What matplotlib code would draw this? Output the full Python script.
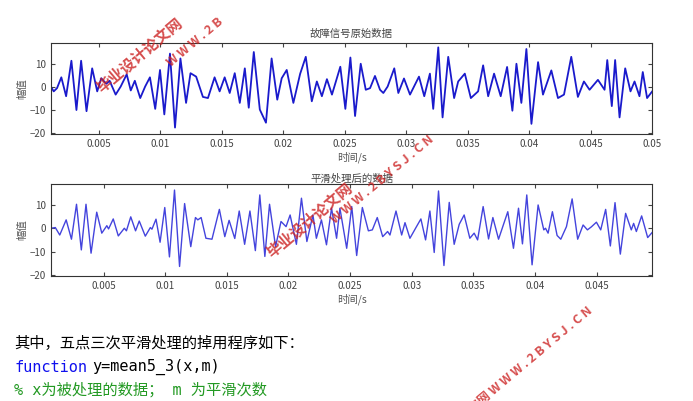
import matplotlib
matplotlib.use("Agg")
import matplotlib.pyplot as plt

plt.rcParams['font.family'] = ['Noto Sans CJK SC', 'DejaVu Sans']

# raw fault signal: extrema (time in ms, amplitude)
raw_t = [1.10, 1.32, 1.59, 1.94, 2.33, 2.76, 3.17, 3.55, 3.99, 4.45, 4.86, 5.19, 5.60, 5.87,
         6.36, 6.77, 7.26, 7.59, 7.92, 8.36, 8.76, 9.15, 9.58, 9.97, 10.32, 10.78, 11.19, 11.63,
         12.09, 12.45, 12.91, 13.46, 13.87, 14.41, 14.82, 15.23, 15.64, 16.05, 16.46, 16.87,
         17.19, 17.60, 18.09, 18.59, 19.05, 19.51, 19.87, 20.28, 20.82, 21.37, 21.83, 22.32,
         22.73, 23.14, 23.55, 23.96, 24.64, 25.05, 25.46, 25.84, 26.30, 26.71, 27.06, 27.46,
         27.87, 28.14, 28.49, 29.03, 29.36, 29.82, 30.31, 31.04, 31.47, 31.93, 32.20, 32.61,
         32.96, 33.42, 33.90, 34.23, 34.77, 35.26, 35.85, 36.26, 36.67, 37.15, 37.69, 38.21,
         38.64, 38.97, 39.37, 39.78, 40.19, 40.73, 41.13, 41.81, 42.35, 42.84, 43.43, 43.97,
         44.46, 44.92, 45.60, 46.14, 46.36, 46.73, 47.00, 47.36, 47.82, 48.25, 48.58, 48.98,
         49.25, 49.60, 50.06]
raw_v = [0, -2, -0.6, 4.1, -4.1, 11.3, -10.1, 11.3, -10.6, 8.0, -2.0, 3.7, 1.3, 2.6,
         -3.4, 0.1, 5.4, -1.6, 2.6, -4.9, 0.1, 4.1, -9.6, 7.3, -12.0, 14.4, -17.7, 12.3,
         -7.0, 5.9, 4.4, -4.4, -4.9, 4.1, -2.0, 4.1, -2.7, 5.9, -7.0, 8.0,
         -9.1, 15.1, -9.9, -15.6, 12.3, -5.6, 3.7, 7.3, -7.0, 5.6, 13.0, -6.3,
         2.3, -4.1, 3.3, -3.4, 8.7, -9.6, 12.7, -12.7, 10.0, -1.3, -0.6, 4.7,
         -1.3, -2.7, 0.1, 8.0, -2.7, 3.6, -3.4, 4.4, -4.1, 5.7, -9.6, 17.1,
         -13.3, 13.0, -4.9, 2.3, 5.7, -4.9, -2.0, 9.3, -4.1, 5.7, -4.1, 8.6,
         -10.4, 10.0, -7.0, 16.4, -16.1, 10.7, -3.4, 7.1, -4.9, -3.4, 13.0, -4.4,
         2.3, -1.3, 3.0, -1.3, 11.6, -8.4, 11.6, -13.3, 8.0, -2.0, 2.3, -4.1,
         6.4, -4.9, -1.7]

# smoothed signal extrema (time in ms, amplitude)
sm_t = [0.74, 1.09, 1.45, 1.97, 2.40, 2.81, 3.20, 3.58, 3.99, 4.45, 4.86, 5.27, 5.41, 5.79,
        6.20, 6.69, 6.86, 7.21, 7.60, 7.90, 8.39, 8.80, 8.93, 9.26, 9.59, 9.97, 10.35, 10.76,
        11.17, 11.58, 12.08, 12.46, 12.65, 12.92, 13.31, 13.80, 14.40, 14.84, 15.19, 15.65,
        16.01, 16.45, 16.88, 17.32, 17.68, 18.09, 18.47, 18.96, 19.40, 19.81, 20.14, 20.65,
        21.06, 21.50, 21.99, 22.27, 22.68, 23.09, 23.50, 23.91, 24.18, 24.73, 25.14, 25.54,
        26.00, 26.49, 26.81, 27.21, 27.65, 28.05, 28.24, 28.73, 29.19, 29.46, 29.86, 30.35,
        30.75, 31.13, 31.48, 31.83, 32.18, 32.62, 33.05, 33.45, 33.86, 34.26, 34.72, 35.07,
        35.35, 35.80, 36.24, 36.59, 37.05, 37.80, 38.26, 38.67, 38.99, 39.34, 39.77, 40.26,
        40.72, 40.86, 41.07, 41.42, 41.80, 42.10, 42.56, 43.02, 43.47, 43.91, 44.26, 44.58,
        44.99, 45.34, 45.74, 46.12, 46.50, 46.93, 47.36, 47.82, 48.01, 48.23, 48.66, 49.15,
        49.53]
sm_v = [0, 0.3, -2.9, 3.6, -4.7, 10.3, -9.3, 10.3, -10.7, 6.9, -2.1, 1.1, -0.3, 4.0,
        -3.3, 0, -1.1, 4.9, -1.1, 3.1, -3.4, 0.3, -0.4, 3.9, -6.0, 8.9, -12.3, 16.4,
        -16.4, 10.6, -7.9, 4.6, 3.6, 4.6, -4.3, -4.7, 8.1, -3.6, 3.4, -4.4,
        7.4, -6.9, 7.4, -9.6, 14.3, -12.1, 10.3, -7.9, 2.9, 0.7, 5.7, -6.9,
        12.9, -5.7, 5.7, -4.3, 3.6, -7.1, 8.6, -4.3, 8.6, -8.6, 9.3, -11.7,
        8.9, -1.1, -0.7, 4.6, -3.6, -1.4, -2.9, 7.4, -2.9, 2.4, -4.3, 0.3,
        4.0, -5.0, 7.4, -10.4, 16.0, -16.0, 11.1, -6.9, 1.7, 5.7, -4.3, -2.1,
        -5.0, 9.3, -4.6, 4.6, -4.7, 7.1, -8.6, 8.6, -6.7, 14.3, -15.7, 10.0,
        -0.7, 0, -2.1, 7.1, -3.1, -4.7, 0.7, 12.6, -4.7, 1.4, -0.7, 0.6,
        2.6, -0.7, 8.1, -7.6, 11.0, -11.1, 6.4, -0.7, 2.1, -1.4, 5.3, -4.0,
        -1.7]

fig = plt.figure(figsize=(6.93, 4.01), dpi=100)
W, H = 693, 401


def box(l, t, r, b):
    return [l / W, 1 - b / H, (r - l) / W, (b - t) / H]


def style(ax, ticks, labels):
    ax.set_ylim(-20.5, 19)
    ax.set_yticks([-20, -10, 0, 10])
    ax.set_xticks(ticks)
    ax.set_xticklabels(labels)
    ax.tick_params(labelsize=7, colors='#444444', length=3, direction='in', top=True, right=True)
    ax.set_ylabel('幅值', fontsize=7.5, color='#555555', labelpad=2)
    ax.set_xlabel('时间/s', fontsize=7.5, color='#555555', labelpad=2)
    for s in ax.spines.values():
        s.set_color('#333333')
        s.set_linewidth(0.8)


ax1 = fig.add_axes(box(51, 43, 652, 134))
ax1.plot([t / 1000 for t in raw_t], raw_v, color='#1a1acc', lw=1.3)
ax1.set_xlim(0.0011, 0.05)
style(ax1, [0.005, 0.01, 0.015, 0.02, 0.025, 0.03, 0.035, 0.04, 0.045, 0.05],
      ['0.005', '0.01', '0.015', '0.02', '0.025', '0.03', '0.035', '0.04', '0.045', '0.05'])
ax1.set_title('故障信号原始数据', fontsize=7.5, color='#444444', pad=4)

ax2 = fig.add_axes(box(51, 184, 652, 276))
ax2.plot([t / 1000 for t in sm_t], sm_v, color='#4444dd', lw=1.0)
ax2.set_xlim(0.00074, 0.0495)
style(ax2, [0.005, 0.01, 0.015, 0.02, 0.025, 0.03, 0.035, 0.04, 0.045],
      ['0.005', '0.01', '0.015', '0.02', '0.025', '0.03', '0.035', '0.04', '0.045'])
ax2.set_title('平滑处理后的数据', fontsize=7.5, color='#444444', pad=2)

# text below the chart
fig.text(14 / W, 1 - 343 / H, '其中，五点三次平滑处理的掉用程序如下：', fontsize=11, va='center')
fig.text(14 / W, 1 - 367 / H, 'function', fontsize=11, va='center', color='#1010ee',
         family='DejaVu Sans Mono')
fig.text(92 / W, 1 - 367 / H, 'y=mean5_3(x,m)', fontsize=11, va='center',
         family='DejaVu Sans Mono')
fig.text(14 / W, 1 - 390 / H, '% x为被处理的数据； m 为平滑次数', fontsize=11, va='center',
         color='#229922', family=['DejaVu Sans Mono', 'Noto Sans CJK SC'])

# watermarks
wm = dict(color='#cc2222', alpha=0.8, rotation=40, fontweight='bold', ha='center', va='center')
fig.text(140 / W, 1 - 55 / H, '毕业设计论文网', fontsize=11, **wm)
fig.text(195 / W, 1 - 42 / H, 'W W W . 2 B', fontsize=9, **wm)
fig.text(310 / W, 1 - 220 / H, '毕业设计论文网', fontsize=11, **wm)
fig.text(382 / W, 1 - 180 / H, 'W W W . 2 B Y S J . C N', fontsize=9, **wm)
fig.text(530 / W, 1 - 360 / H, '文网 W W W . 2 B Y S J . C N', fontsize=9, **wm)

fig.savefig('out.png', dpi=100)
